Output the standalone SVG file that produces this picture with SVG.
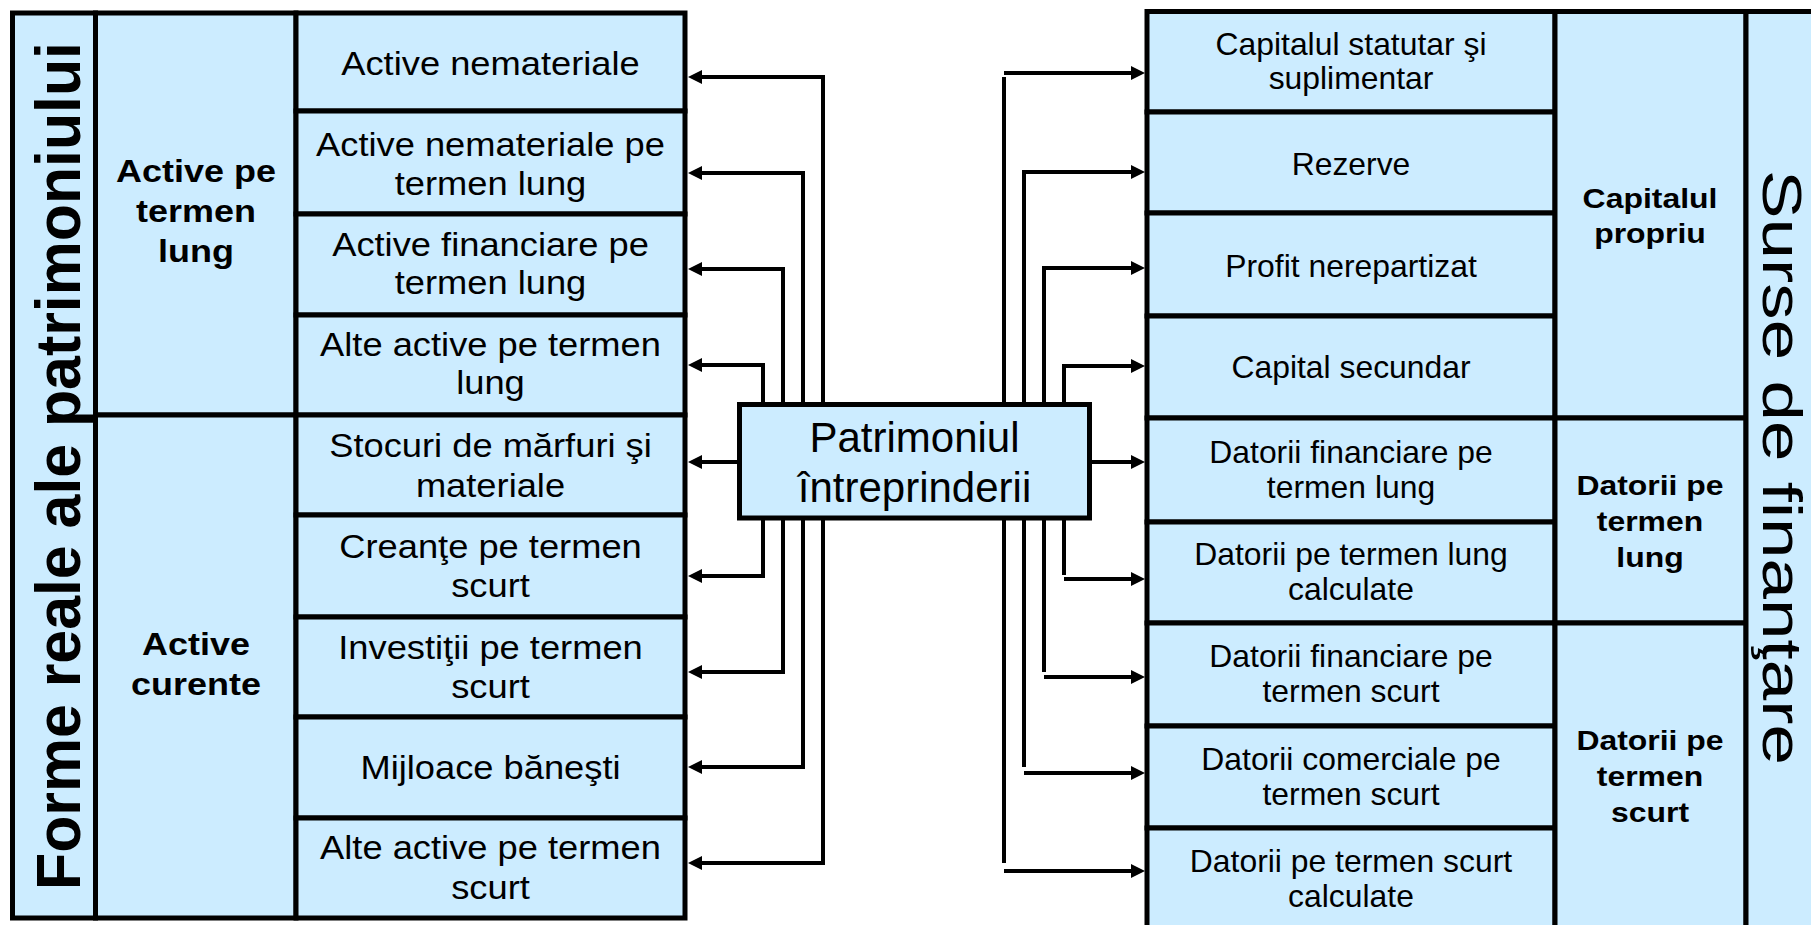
<svg xmlns="http://www.w3.org/2000/svg" width="1811" height="925" viewBox="0 0 1811 925">
<defs>
<style>
.cell{fill:#CCECFF;stroke:#000;stroke-width:5}
.t{font-family:"Liberation Sans",Arial,sans-serif;fill:#000;text-anchor:middle}
.l3{font-size:33px}
.r1{font-size:30.5px}
.b{font-weight:bold}
.l2{font-size:31px}
.r2{font-size:28px}
.conn{fill:none;stroke:#000;stroke-width:4}
</style>
<marker id="ah" markerUnits="userSpaceOnUse" viewBox="0 0 14 14" markerWidth="14" markerHeight="14" refX="4" refY="7" orient="auto">
<path d="M0,0 L14,7 L0,14 z" fill="#000"/>
</marker>
</defs>
<rect width="1811" height="925" fill="#fff"/>

<g id="left-table">
<g id="forme-reale">
<rect class="cell" x="12.5" y="13" width="83" height="905"/>
<text class="t b" font-size="63" style="text-anchor:start" transform="translate(80,890) rotate(-90)" textLength="848" lengthAdjust="spacingAndGlyphs">Forme reale ale patrimoniului</text>
</g>
<g id="active-termen-lung">
<rect class="cell" x="95.5" y="13" width="200.5" height="402"/>
<text class="t b l2" transform="translate(196 0) scale(1.16 1)"><tspan x="0" y="182">Active pe</tspan><tspan x="0" y="222">termen</tspan><tspan x="0" y="262">lung</tspan></text>
</g>
<g id="active-curente">
<rect class="cell" x="95.5" y="415" width="200.5" height="503"/>
<text class="t b l2" transform="translate(196 0) scale(1.16 1)"><tspan x="0" y="655">Active</tspan><tspan x="0" y="695">curente</tspan></text>
</g>
<g id="active-nemateriale">
<rect class="cell" x="296" y="13" width="389" height="98"/>
<text class="t l3" transform="translate(490.5 0) scale(1.1 1)"><tspan x="0" y="75">Active nemateriale</tspan></text>
</g>
<g id="active-nemateriale-tl">
<rect class="cell" x="296" y="111" width="389" height="103"/>
<text class="t l3" transform="translate(490.5 0) scale(1.1 1)"><tspan x="0" y="156">Active nemateriale pe</tspan><tspan x="0" y="195">termen lung</tspan></text>
</g>
<g id="active-financiare-tl">
<rect class="cell" x="296" y="214" width="389" height="101"/>
<text class="t l3" transform="translate(490.5 0) scale(1.1 1)"><tspan x="0" y="256">Active financiare pe</tspan><tspan x="0" y="294">termen lung</tspan></text>
</g>
<g id="alte-active-tl">
<rect class="cell" x="296" y="315" width="389" height="100"/>
<text class="t l3" transform="translate(490.5 0) scale(1.1 1)"><tspan x="0" y="356">Alte active pe termen</tspan><tspan x="0" y="394">lung</tspan></text>
</g>
<g id="stocuri">
<rect class="cell" x="296" y="415" width="389" height="100"/>
<text class="t l3" transform="translate(490.5 0) scale(1.1 1)"><tspan x="0" y="457">Stocuri de mărfuri şi</tspan><tspan x="0" y="497">materiale</tspan></text>
</g>
<g id="creante">
<rect class="cell" x="296" y="515" width="389" height="102"/>
<text class="t l3" transform="translate(490.5 0) scale(1.1 1)"><tspan x="0" y="558">Creanţe pe termen</tspan><tspan x="0" y="597">scurt</tspan></text>
</g>
<g id="investitii">
<rect class="cell" x="296" y="617" width="389" height="100"/>
<text class="t l3" transform="translate(490.5 0) scale(1.1 1)"><tspan x="0" y="659">Investiţii pe termen</tspan><tspan x="0" y="698">scurt</tspan></text>
</g>
<g id="mijloace">
<rect class="cell" x="296" y="717" width="389" height="101"/>
<text class="t l3" transform="translate(490.5 0) scale(1.1 1)"><tspan x="0" y="779">Mijloace băneşti</tspan></text>
</g>
<g id="alte-active-ts">
<rect class="cell" x="296" y="818" width="389" height="100"/>
<text class="t l3" transform="translate(490.5 0) scale(1.1 1)"><tspan x="0" y="859">Alte active pe termen</tspan><tspan x="0" y="899">scurt</tspan></text>
</g>
</g>

<g id="right-table">
<g id="capital-statutar">
<rect class="cell" x="1147" y="11.5" width="408" height="100.5"/>
<text class="t r1" transform="translate(1351 0) scale(1.045 1)"><tspan x="0" y="55">Capitalul statutar şi</tspan><tspan x="0" y="89">suplimentar</tspan></text>
</g>
<g id="rezerve">
<rect class="cell" x="1147" y="112" width="408" height="101"/>
<text class="t r1" transform="translate(1351 0) scale(1.045 1)"><tspan x="0" y="175">Rezerve</tspan></text>
</g>
<g id="profit">
<rect class="cell" x="1147" y="213" width="408" height="103"/>
<text class="t r1" transform="translate(1351 0) scale(1.045 1)"><tspan x="0" y="277">Profit nerepartizat</tspan></text>
</g>
<g id="capital-secundar">
<rect class="cell" x="1147" y="316" width="408" height="102"/>
<text class="t r1" transform="translate(1351 0) scale(1.045 1)"><tspan x="0" y="378">Capital secundar</tspan></text>
</g>
<g id="datorii-fin-tl">
<rect class="cell" x="1147" y="418" width="408" height="104"/>
<text class="t r1" transform="translate(1351 0) scale(1.045 1)"><tspan x="0" y="463">Datorii financiare pe</tspan><tspan x="0" y="498">termen lung</tspan></text>
</g>
<g id="datorii-tl-calc">
<rect class="cell" x="1147" y="522" width="408" height="101"/>
<text class="t r1" transform="translate(1351 0) scale(1.045 1)"><tspan x="0" y="565">Datorii pe termen lung</tspan><tspan x="0" y="600">calculate</tspan></text>
</g>
<g id="datorii-fin-ts">
<rect class="cell" x="1147" y="623" width="408" height="103"/>
<text class="t r1" transform="translate(1351 0) scale(1.045 1)"><tspan x="0" y="667">Datorii financiare pe</tspan><tspan x="0" y="702">termen scurt</tspan></text>
</g>
<g id="datorii-com-ts">
<rect class="cell" x="1147" y="726" width="408" height="102"/>
<text class="t r1" transform="translate(1351 0) scale(1.045 1)"><tspan x="0" y="770">Datorii comerciale pe</tspan><tspan x="0" y="805">termen scurt</tspan></text>
</g>
<g id="datorii-ts-calc">
<rect class="cell" x="1147" y="828" width="408" height="104"/>
<text class="t r1" transform="translate(1351 0) scale(1.045 1)"><tspan x="0" y="872">Datorii pe termen scurt</tspan><tspan x="0" y="907">calculate</tspan></text>
</g>
<g id="capitalul-propriu">
<rect class="cell" x="1555" y="11.5" width="191" height="406.5"/>
<text class="t b r2" transform="translate(1650 0) scale(1.14 1)"><tspan x="0" y="208">Capitalul</tspan><tspan x="0" y="243">propriu</tspan></text>
</g>
<g id="datorii-tl">
<rect class="cell" x="1555" y="418" width="191" height="205"/>
<text class="t b r2" transform="translate(1650 0) scale(1.14 1)"><tspan x="0" y="495">Datorii pe</tspan><tspan x="0" y="531">termen</tspan><tspan x="0" y="567">lung</tspan></text>
</g>
<g id="datorii-ts">
<rect class="cell" x="1555" y="623" width="191" height="309"/>
<text class="t b r2" transform="translate(1650 0) scale(1.14 1)"><tspan x="0" y="750">Datorii pe</tspan><tspan x="0" y="786">termen</tspan><tspan x="0" y="822">scurt</tspan></text>
</g>
<g id="surse-finantare">
<rect class="cell" x="1746" y="11.5" width="75" height="920.5"/>
<text class="t" font-size="56" style="text-anchor:start" transform="translate(1763,170) rotate(90)" textLength="595" lengthAdjust="spacingAndGlyphs">Surse de finanţare</text>
</g>
</g>

<g id="patrimoniul">
<rect class="cell" x="739.5" y="404.5" width="350" height="113.5"/>
<text class="t" font-size="42"><tspan x="914.5" y="452">Patrimoniul</tspan><tspan x="914.5" y="502">întreprinderii</tspan></text>
</g>

<g id="connectors">
<path class="conn" marker-end="url(#ah)" d="M823,404 V77 H698"/>
<path class="conn" marker-end="url(#ah)" d="M803,404 V173 H698"/>
<path class="conn" marker-end="url(#ah)" d="M783,404 V269 H698"/>
<path class="conn" marker-end="url(#ah)" d="M763,404 V365 H698"/>
<path class="conn" marker-end="url(#ah)" d="M739,462 H698"/>
<path class="conn" marker-end="url(#ah)" d="M763,518 V576 H698"/>
<path class="conn" marker-end="url(#ah)" d="M783,518 V672 H698"/>
<path class="conn" marker-end="url(#ah)" d="M803,518 V767 H698"/>
<path class="conn" marker-end="url(#ah)" d="M823,518 V863 H698"/>

<path class="conn" d="M1004,404 V77"/>
<path class="conn" marker-end="url(#ah)" d="M1004,73 H1135"/>
<path class="conn" marker-end="url(#ah)" d="M1024,404 V172 H1135"/>
<path class="conn" marker-end="url(#ah)" d="M1044,404 V268 H1135"/>
<path class="conn" marker-end="url(#ah)" d="M1064,404 V366 H1135"/>
<path class="conn" marker-end="url(#ah)" d="M1090,462 H1135"/>
<path class="conn" d="M1064,518 V575"/>
<path class="conn" marker-end="url(#ah)" d="M1064,579 H1135"/>
<path class="conn" d="M1044,518 V672"/>
<path class="conn" marker-end="url(#ah)" d="M1044,677 H1135"/>
<path class="conn" d="M1024,518 V767"/>
<path class="conn" marker-end="url(#ah)" d="M1024,773 H1135"/>
<path class="conn" d="M1004,518 V863"/>
<path class="conn" marker-end="url(#ah)" d="M1004,871 H1135"/>
</g>
</svg>
